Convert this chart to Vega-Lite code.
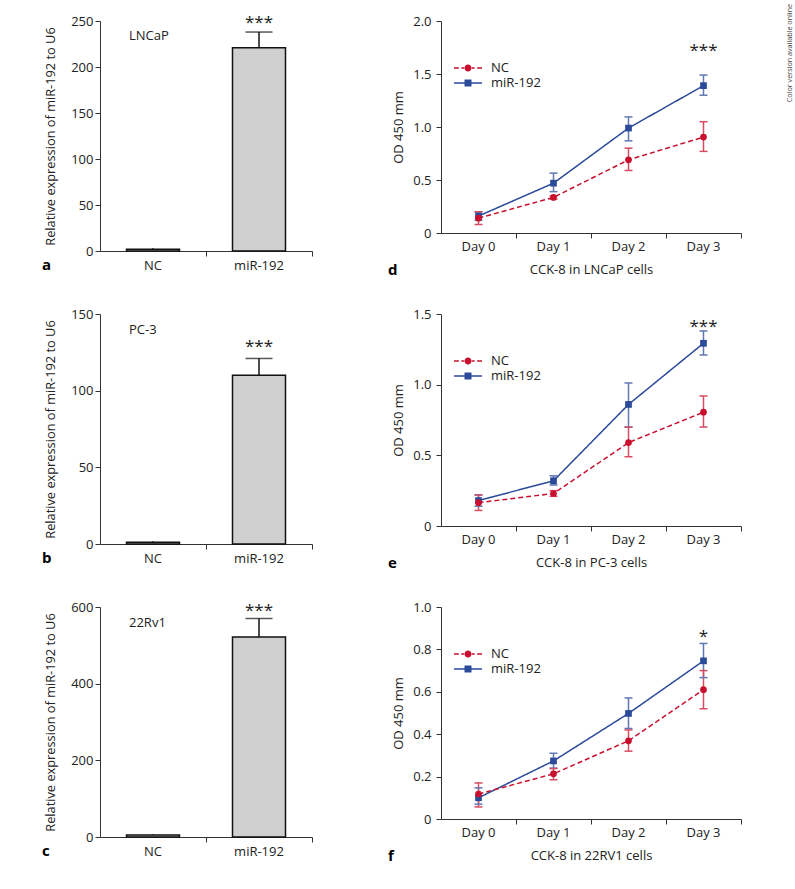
{
  "$schema": "https://vega.github.io/schema/vega-lite/v6.json",
  "padding": {"left": 42, "top": 3, "right": 2, "bottom": 5},
  "background": "white",
  "title": {"text": "Color version available online", "orient": "right", "anchor": "start", "angle": -90, "align": "right", "fontSize": 7.2, "font": "Open Sans", "fontWeight": "normal", "color": "#444", "offset": 37, "dx": 10.5},
  "config": {
    "font": "Open Sans",
    "view": {"stroke": null},
    "axis": {"domainColor": "#333", "tickColor": "#333", "labelColor": "#222", "titleColor": "#222", "labelFontSize": 13, "titleFontSize": 13, "titleFontWeight": "normal", "grid": false, "tickSize": 5, "labelFont": "Open Sans", "titleFont": "Open Sans"},
    "legend": {"labelFont": "Open Sans"}
  },
  "datasets": {
    "bars": [
      {"panel": "a", "group": "NC", "value": 2, "hi": 3},
      {"panel": "a", "group": "miR-192", "value": 221, "hi": 238},
      {"panel": "b", "group": "NC", "value": 1.2, "hi": 1.8},
      {"panel": "b", "group": "miR-192", "value": 110, "hi": 121},
      {"panel": "c", "group": "NC", "value": 5, "hi": 7},
      {"panel": "c", "group": "miR-192", "value": 522, "hi": 570}
    ],
    "barnotes": [
      {"panel": "a", "group": "miR-192", "y": 242, "text": "***", "kind": "star"},
      {"panel": "a", "group": "NC", "y": 229.6, "text": "LNCaP", "kind": "cell"},
      {"panel": "b", "group": "miR-192", "y": 125, "text": "***", "kind": "star"},
      {"panel": "b", "group": "NC", "y": 136.7, "text": "PC-3", "kind": "cell"},
      {"panel": "c", "group": "miR-192", "y": 577, "text": "***", "kind": "star"},
      {"panel": "c", "group": "NC", "y": 549, "text": "22Rv1", "kind": "cell"}
    ],
    "lines": [
      {"panel": "d", "group": "miR-192", "day": "Day 0", "value": 0.16, "lo": 0.12, "hi": 0.2},
      {"panel": "d", "group": "miR-192", "day": "Day 1", "value": 0.47, "lo": 0.39, "hi": 0.565},
      {"panel": "d", "group": "miR-192", "day": "Day 2", "value": 0.99, "lo": 0.87, "hi": 1.095},
      {"panel": "d", "group": "miR-192", "day": "Day 3", "value": 1.39, "lo": 1.3, "hi": 1.49},
      {"panel": "d", "group": "NC", "day": "Day 0", "value": 0.14, "lo": 0.08, "hi": 0.2},
      {"panel": "d", "group": "NC", "day": "Day 1", "value": 0.336, "lo": 0.32, "hi": 0.35},
      {"panel": "d", "group": "NC", "day": "Day 2", "value": 0.69, "lo": 0.59, "hi": 0.8},
      {"panel": "d", "group": "NC", "day": "Day 3", "value": 0.905, "lo": 0.77, "hi": 1.05},
      {"panel": "e", "group": "miR-192", "day": "Day 0", "value": 0.18, "lo": 0.14, "hi": 0.22},
      {"panel": "e", "group": "miR-192", "day": "Day 1", "value": 0.32, "lo": 0.29, "hi": 0.355},
      {"panel": "e", "group": "miR-192", "day": "Day 2", "value": 0.86, "lo": 0.7, "hi": 1.012},
      {"panel": "e", "group": "miR-192", "day": "Day 3", "value": 1.293, "lo": 1.21, "hi": 1.38},
      {"panel": "e", "group": "NC", "day": "Day 0", "value": 0.165, "lo": 0.11, "hi": 0.22},
      {"panel": "e", "group": "NC", "day": "Day 1", "value": 0.23, "lo": 0.21, "hi": 0.25},
      {"panel": "e", "group": "NC", "day": "Day 2", "value": 0.59, "lo": 0.49, "hi": 0.7},
      {"panel": "e", "group": "NC", "day": "Day 3", "value": 0.805, "lo": 0.7, "hi": 0.92},
      {"panel": "f", "group": "miR-192", "day": "Day 0", "value": 0.1, "lo": 0.07, "hi": 0.147},
      {"panel": "f", "group": "miR-192", "day": "Day 1", "value": 0.274, "lo": 0.24, "hi": 0.31},
      {"panel": "f", "group": "miR-192", "day": "Day 2", "value": 0.498, "lo": 0.427, "hi": 0.571},
      {"panel": "f", "group": "miR-192", "day": "Day 3", "value": 0.746, "lo": 0.667, "hi": 0.828},
      {"panel": "f", "group": "NC", "day": "Day 0", "value": 0.118, "lo": 0.057, "hi": 0.17},
      {"panel": "f", "group": "NC", "day": "Day 1", "value": 0.213, "lo": 0.185, "hi": 0.238},
      {"panel": "f", "group": "NC", "day": "Day 2", "value": 0.369, "lo": 0.32, "hi": 0.42},
      {"panel": "f", "group": "NC", "day": "Day 3", "value": 0.61, "lo": 0.52, "hi": 0.7}
    ],
    "linenotes": [
      {"panel": "d", "day": "Day 3", "y": 1.673, "text": "***"},
      {"panel": "e", "day": "Day 3", "y": 1.374, "text": "***"},
      {"panel": "f", "day": "Day 3", "y": 0.835, "text": "*"}
    ]
  },
  "hconcat": [
    {
      "spacing": 35,
      "vconcat": [
        {
          "width": 212, "height": 230,
          "title": {"text": "a", "orient": "bottom", "anchor": "start", "frame": "group", "dx": -58, "dy": -14, "fontSize": 15, "fontWeight": "bold", "color": "#000", "offset": 0},
          "layer": [
            {"data": {"name": "bars"}, "transform": [{"filter": "datum.panel === 'a'"}],
             "mark": {"type": "bar", "width": {"band": 0.5}, "fill": "#cfcfcf", "stroke": "#111", "strokeWidth": 1.5},
             "encoding": {
               "x": {"field": "group", "type": "nominal", "sort": ["NC", "miR-192"], "scale": {"type": "band", "paddingInner": 0, "paddingOuter": 0}, "axis": {"title": null, "labelAngle": 0, "bandPosition": 1, "labelPadding": 3}},
               "y": {"field": "value", "type": "quantitative", "title": "Relative expression of miR-192 to U6", "scale": {"domain": [0, 250], "nice": false}, "axis": {"values": [0, 50, 100, 150, 200, 250], "titleFontSize": 12.8, "labelPadding": 2, "titlePadding": 13}}
             }},
            {"data": {"name": "bars"}, "transform": [{"filter": "datum.panel === 'a'"}],
             "mark": {"type": "rule", "color": "#111", "strokeWidth": 1.5},
             "encoding": {
               "x": {"field": "group", "type": "nominal", "sort": ["NC", "miR-192"]},
               "y": {"field": "value", "type": "quantitative", "title": "Relative expression of miR-192 to U6"},
               "y2": {"field": "hi"}
             }},
            {"data": {"name": "bars"}, "transform": [{"filter": "datum.panel === 'a' && datum.group === 'miR-192'"}],
             "mark": {"type": "tick", "color": "#111", "size": 27, "thickness": 1.5, "orient": "horizontal"},
             "encoding": {
               "x": {"field": "group", "type": "nominal", "sort": ["NC", "miR-192"]},
               "y": {"field": "hi", "type": "quantitative", "title": "Relative expression of miR-192 to U6"}
             }},
            {"data": {"name": "barnotes"}, "transform": [{"filter": "datum.panel === 'a' && datum.kind === 'star'"}],
             "mark": {"type": "text", "fontSize": 17, "baseline": "alphabetic", "align": "center", "color": "#222"},
             "encoding": {
               "x": {"field": "group", "type": "nominal", "sort": ["NC", "miR-192"]},
               "y": {"field": "y", "type": "quantitative", "title": "Relative expression of miR-192 to U6"},
               "text": {"field": "text"}
             }},
            {"data": {"name": "barnotes"}, "transform": [{"filter": "datum.panel === 'a' && datum.kind === 'cell'"}],
             "mark": {"type": "text", "fontSize": 13, "baseline": "alphabetic", "align": "left", "dx": -24, "color": "#222"},
             "encoding": {
               "x": {"field": "group", "type": "nominal", "sort": ["NC", "miR-192"]},
               "y": {"field": "y", "type": "quantitative", "title": "Relative expression of miR-192 to U6"},
               "text": {"field": "text"}
             }}
          ]
        },
        {
          "width": 212, "height": 230,
          "title": {"text": "b", "orient": "bottom", "anchor": "start", "frame": "group", "dx": -58, "dy": -14, "fontSize": 15, "fontWeight": "bold", "color": "#000", "offset": 0},
          "layer": [
            {"data": {"name": "bars"}, "transform": [{"filter": "datum.panel === 'b'"}],
             "mark": {"type": "bar", "width": {"band": 0.5}, "fill": "#cfcfcf", "stroke": "#111", "strokeWidth": 1.5},
             "encoding": {
               "x": {"field": "group", "type": "nominal", "sort": ["NC", "miR-192"], "scale": {"type": "band", "paddingInner": 0, "paddingOuter": 0}, "axis": {"title": null, "labelAngle": 0, "bandPosition": 1, "labelPadding": 3}},
               "y": {"field": "value", "type": "quantitative", "title": "Relative expression of miR-192 to U6", "scale": {"domain": [0, 150], "nice": false}, "axis": {"values": [0, 50, 100, 150], "titleFontSize": 12.8, "labelPadding": 2, "titlePadding": 13}}
             }},
            {"data": {"name": "bars"}, "transform": [{"filter": "datum.panel === 'b'"}],
             "mark": {"type": "rule", "color": "#111", "strokeWidth": 1.5},
             "encoding": {
               "x": {"field": "group", "type": "nominal", "sort": ["NC", "miR-192"]},
               "y": {"field": "value", "type": "quantitative", "title": "Relative expression of miR-192 to U6"},
               "y2": {"field": "hi"}
             }},
            {"data": {"name": "bars"}, "transform": [{"filter": "datum.panel === 'b' && datum.group === 'miR-192'"}],
             "mark": {"type": "tick", "color": "#111", "size": 27, "thickness": 1.5, "orient": "horizontal"},
             "encoding": {
               "x": {"field": "group", "type": "nominal", "sort": ["NC", "miR-192"]},
               "y": {"field": "hi", "type": "quantitative", "title": "Relative expression of miR-192 to U6"}
             }},
            {"data": {"name": "barnotes"}, "transform": [{"filter": "datum.panel === 'b' && datum.kind === 'star'"}],
             "mark": {"type": "text", "fontSize": 17, "baseline": "alphabetic", "align": "center", "color": "#222"},
             "encoding": {
               "x": {"field": "group", "type": "nominal", "sort": ["NC", "miR-192"]},
               "y": {"field": "y", "type": "quantitative", "title": "Relative expression of miR-192 to U6"},
               "text": {"field": "text"}
             }},
            {"data": {"name": "barnotes"}, "transform": [{"filter": "datum.panel === 'b' && datum.kind === 'cell'"}],
             "mark": {"type": "text", "fontSize": 13, "baseline": "alphabetic", "align": "left", "dx": -24, "color": "#222"},
             "encoding": {
               "x": {"field": "group", "type": "nominal", "sort": ["NC", "miR-192"]},
               "y": {"field": "y", "type": "quantitative", "title": "Relative expression of miR-192 to U6"},
               "text": {"field": "text"}
             }}
          ]
        },
        {
          "width": 212, "height": 230,
          "title": {"text": "c", "orient": "bottom", "anchor": "start", "frame": "group", "dx": -58, "dy": -14, "fontSize": 15, "fontWeight": "bold", "color": "#000", "offset": 0},
          "layer": [
            {"data": {"name": "bars"}, "transform": [{"filter": "datum.panel === 'c'"}],
             "mark": {"type": "bar", "width": {"band": 0.5}, "fill": "#cfcfcf", "stroke": "#111", "strokeWidth": 1.5},
             "encoding": {
               "x": {"field": "group", "type": "nominal", "sort": ["NC", "miR-192"], "scale": {"type": "band", "paddingInner": 0, "paddingOuter": 0}, "axis": {"title": null, "labelAngle": 0, "bandPosition": 1, "labelPadding": 3}},
               "y": {"field": "value", "type": "quantitative", "title": "Relative expression of miR-192 to U6", "scale": {"domain": [0, 600], "nice": false}, "axis": {"values": [0, 200, 400, 600], "titleFontSize": 12.8, "labelPadding": 2, "titlePadding": 13}}
             }},
            {"data": {"name": "bars"}, "transform": [{"filter": "datum.panel === 'c'"}],
             "mark": {"type": "rule", "color": "#111", "strokeWidth": 1.5},
             "encoding": {
               "x": {"field": "group", "type": "nominal", "sort": ["NC", "miR-192"]},
               "y": {"field": "value", "type": "quantitative", "title": "Relative expression of miR-192 to U6"},
               "y2": {"field": "hi"}
             }},
            {"data": {"name": "bars"}, "transform": [{"filter": "datum.panel === 'c' && datum.group === 'miR-192'"}],
             "mark": {"type": "tick", "color": "#111", "size": 27, "thickness": 1.5, "orient": "horizontal"},
             "encoding": {
               "x": {"field": "group", "type": "nominal", "sort": ["NC", "miR-192"]},
               "y": {"field": "hi", "type": "quantitative", "title": "Relative expression of miR-192 to U6"}
             }},
            {"data": {"name": "barnotes"}, "transform": [{"filter": "datum.panel === 'c' && datum.kind === 'star'"}],
             "mark": {"type": "text", "fontSize": 17, "baseline": "alphabetic", "align": "center", "color": "#222"},
             "encoding": {
               "x": {"field": "group", "type": "nominal", "sort": ["NC", "miR-192"]},
               "y": {"field": "y", "type": "quantitative", "title": "Relative expression of miR-192 to U6"},
               "text": {"field": "text"}
             }},
            {"data": {"name": "barnotes"}, "transform": [{"filter": "datum.panel === 'c' && datum.kind === 'cell'"}],
             "mark": {"type": "text", "fontSize": 13, "baseline": "alphabetic", "align": "left", "dx": -24, "color": "#222"},
             "encoding": {
               "x": {"field": "group", "type": "nominal", "sort": ["NC", "miR-192"]},
               "y": {"field": "y", "type": "quantitative", "title": "Relative expression of miR-192 to U6"},
               "text": {"field": "text"}
             }}
          ]
        }
      ]
    },
    {
      "spacing": 30,
      "resolve": {"scale": {"color": "independent", "shape": "independent"}, "legend": {"color": "independent", "shape": "independent"}},
      "vconcat": [
        {
          "width": 300, "height": 212,
          "title": {"text": "d", "orient": "bottom", "anchor": "start", "frame": "group", "dx": -53, "dy": -13, "fontSize": 15, "fontWeight": "bold", "color": "#000", "offset": 0},
          "data": {"name": "lines"},
          "transform": [{"filter": "datum.panel === 'd'"}],
          "layer": [
            {"mark": {"type": "rule", "strokeWidth": 1.5},
             "encoding": {
               "x": {"field": "day", "type": "ordinal", "scale": {"type": "band", "paddingInner": 0, "paddingOuter": 0}, "axis": {"title": "CCK-8 in LNCaP cells", "labelAngle": 0, "bandPosition": 1, "labelPadding": 2, "titlePadding": 10}},
               "y": {"field": "lo", "type": "quantitative", "title": "OD 450 mm", "scale": {"domain": [0, 2], "nice": false}, "axis": {"values": [0, 0.5, 1, 1.5, 2], "labelExpr": "datum.value === 0 ? '0' : format(datum.value, '.1f')", "labelPadding": 5, "titlePadding": 7}},
               "y2": {"field": "hi"},
               "color": {"condition": {"test": "datum.group === 'NC'", "value": "#d64c62"}, "value": "#6077b3"}
             }},
            {"mark": {"type": "tick", "size": 8, "thickness": 1.5, "orient": "horizontal", "opacity": 1},
             "encoding": {
               "x": {"field": "day", "type": "ordinal"},
               "y": {"field": "lo", "type": "quantitative", "title": "OD 450 mm"},
               "color": {"condition": {"test": "datum.group === 'NC'", "value": "#d64c62"}, "value": "#6077b3"}
             }},
            {"mark": {"type": "tick", "size": 8, "thickness": 1.5, "orient": "horizontal", "opacity": 1},
             "encoding": {
               "x": {"field": "day", "type": "ordinal"},
               "y": {"field": "hi", "type": "quantitative", "title": "OD 450 mm"},
               "color": {"condition": {"test": "datum.group === 'NC'", "value": "#d64c62"}, "value": "#6077b3"}
             }},
            {"mark": {"type": "line", "strokeWidth": 1.5},
             "encoding": {
               "x": {"field": "day", "type": "ordinal"},
               "y": {"field": "value", "type": "quantitative", "title": "OD 450 mm"},
               "detail": {"field": "group"},
               "color": {"condition": {"test": "datum.group === 'NC'", "value": "#c8102e"}, "value": "#2b4a9a"},
               "strokeDash": {"condition": {"test": "datum.group === 'NC'", "value": [5, 3]}, "value": [1, 0]}
             }},
            {"mark": {"type": "point", "filled": true, "size": 45, "opacity": 1},
             "encoding": {
               "x": {"field": "day", "type": "ordinal"},
               "y": {"field": "value", "type": "quantitative", "title": "OD 450 mm"},
               "color": {"condition": {"test": "datum.group === 'NC'", "value": "#c8102e"}, "value": "#2b4a9a"},
               "shape": {"condition": {"test": "datum.group === 'NC'", "value": "circle"}, "value": "square"}
             }},
            {"transform": [{"filter": "false"}],
             "mark": {"type": "point", "filled": true, "size": 45, "opacity": 1},
             "encoding": {
               "x": {"field": "day", "type": "ordinal"},
               "y": {"field": "value", "type": "quantitative", "title": "OD 450 mm"},
               "color": {"field": "group", "type": "nominal", "scale": {"domain": ["NC", "miR-192"], "range": ["#c8102e", "#2b4a9a"]}, "legend": {"orient": "none", "legendX": 20, "legendY": 40, "title": null, "labelFontSize": 13, "labelColor": "#222", "symbolSize": 196, "symbolOpacity": 1, "symbolStrokeWidth": 0, "labelOffset": 16, "rowPadding": 1}},
               "shape": {"field": "group", "type": "nominal", "scale": {"domain": ["NC", "miR-192"], "range": ["M-2,-0.11H-1.3V0.11H-2Z M-0.95,-0.11H-0.55V0.11H-0.95Z M0.55,-0.11H0.95V0.11H0.55Z M1.3,-0.11H2V0.11H1.3Z M0.5,0A0.5,0.5,0,1,1,-0.5,0A0.5,0.5,0,1,1,0.5,0Z", "M-2,-0.11H2V0.11H-2Z M-0.5,-0.5H0.5V0.5H-0.5Z"]}, "legend": {"orient": "none", "legendX": 20, "legendY": 40, "title": null, "labelFontSize": 13, "labelColor": "#222", "symbolSize": 196, "symbolOpacity": 1, "symbolStrokeWidth": 0, "labelOffset": 16, "rowPadding": 1}}
             }},
            {"data": {"name": "linenotes"}, "transform": [{"filter": "datum.panel === 'd'"}],
             "mark": {"type": "text", "fontSize": 17, "baseline": "alphabetic", "align": "center", "color": "#222"},
             "encoding": {
               "x": {"field": "day", "type": "ordinal"},
               "y": {"field": "y", "type": "quantitative", "title": "OD 450 mm"},
               "text": {"field": "text"}
             }}
          ]
        },
        {
          "width": 300, "height": 212,
          "title": {"text": "e", "orient": "bottom", "anchor": "start", "frame": "group", "dx": -53, "dy": -13, "fontSize": 15, "fontWeight": "bold", "color": "#000", "offset": 0},
          "data": {"name": "lines"},
          "transform": [{"filter": "datum.panel === 'e'"}],
          "layer": [
            {"mark": {"type": "rule", "strokeWidth": 1.5},
             "encoding": {
               "x": {"field": "day", "type": "ordinal", "scale": {"type": "band", "paddingInner": 0, "paddingOuter": 0}, "axis": {"title": "CCK-8 in PC-3 cells", "labelAngle": 0, "bandPosition": 1, "labelPadding": 2, "titlePadding": 10}},
               "y": {"field": "lo", "type": "quantitative", "title": "OD 450 mm", "scale": {"domain": [0, 1.5], "nice": false}, "axis": {"values": [0, 0.5, 1, 1.5], "labelExpr": "datum.value === 0 ? '0' : format(datum.value, '.1f')", "labelPadding": 5, "titlePadding": 7}},
               "y2": {"field": "hi"},
               "color": {"condition": {"test": "datum.group === 'NC'", "value": "#d64c62"}, "value": "#6077b3"}
             }},
            {"mark": {"type": "tick", "size": 8, "thickness": 1.5, "orient": "horizontal", "opacity": 1},
             "encoding": {
               "x": {"field": "day", "type": "ordinal"},
               "y": {"field": "lo", "type": "quantitative", "title": "OD 450 mm"},
               "color": {"condition": {"test": "datum.group === 'NC'", "value": "#d64c62"}, "value": "#6077b3"}
             }},
            {"mark": {"type": "tick", "size": 8, "thickness": 1.5, "orient": "horizontal", "opacity": 1},
             "encoding": {
               "x": {"field": "day", "type": "ordinal"},
               "y": {"field": "hi", "type": "quantitative", "title": "OD 450 mm"},
               "color": {"condition": {"test": "datum.group === 'NC'", "value": "#d64c62"}, "value": "#6077b3"}
             }},
            {"mark": {"type": "line", "strokeWidth": 1.5},
             "encoding": {
               "x": {"field": "day", "type": "ordinal"},
               "y": {"field": "value", "type": "quantitative", "title": "OD 450 mm"},
               "detail": {"field": "group"},
               "color": {"condition": {"test": "datum.group === 'NC'", "value": "#c8102e"}, "value": "#2b4a9a"},
               "strokeDash": {"condition": {"test": "datum.group === 'NC'", "value": [5, 3]}, "value": [1, 0]}
             }},
            {"mark": {"type": "point", "filled": true, "size": 45, "opacity": 1},
             "encoding": {
               "x": {"field": "day", "type": "ordinal"},
               "y": {"field": "value", "type": "quantitative", "title": "OD 450 mm"},
               "color": {"condition": {"test": "datum.group === 'NC'", "value": "#c8102e"}, "value": "#2b4a9a"},
               "shape": {"condition": {"test": "datum.group === 'NC'", "value": "circle"}, "value": "square"}
             }},
            {"transform": [{"filter": "false"}],
             "mark": {"type": "point", "filled": true, "size": 45, "opacity": 1},
             "encoding": {
               "x": {"field": "day", "type": "ordinal"},
               "y": {"field": "value", "type": "quantitative", "title": "OD 450 mm"},
               "color": {"field": "group", "type": "nominal", "scale": {"domain": ["NC", "miR-192"], "range": ["#c8102e", "#2b4a9a"]}, "legend": {"orient": "none", "legendX": 20, "legendY": 40, "title": null, "labelFontSize": 13, "labelColor": "#222", "symbolSize": 196, "symbolOpacity": 1, "symbolStrokeWidth": 0, "labelOffset": 16, "rowPadding": 1}},
               "shape": {"field": "group", "type": "nominal", "scale": {"domain": ["NC", "miR-192"], "range": ["M-2,-0.11H-1.3V0.11H-2Z M-0.95,-0.11H-0.55V0.11H-0.95Z M0.55,-0.11H0.95V0.11H0.55Z M1.3,-0.11H2V0.11H1.3Z M0.5,0A0.5,0.5,0,1,1,-0.5,0A0.5,0.5,0,1,1,0.5,0Z", "M-2,-0.11H2V0.11H-2Z M-0.5,-0.5H0.5V0.5H-0.5Z"]}, "legend": {"orient": "none", "legendX": 20, "legendY": 40, "title": null, "labelFontSize": 13, "labelColor": "#222", "symbolSize": 196, "symbolOpacity": 1, "symbolStrokeWidth": 0, "labelOffset": 16, "rowPadding": 1}}
             }},
            {"data": {"name": "linenotes"}, "transform": [{"filter": "datum.panel === 'e'"}],
             "mark": {"type": "text", "fontSize": 17, "baseline": "alphabetic", "align": "center", "color": "#222"},
             "encoding": {
               "x": {"field": "day", "type": "ordinal"},
               "y": {"field": "y", "type": "quantitative", "title": "OD 450 mm"},
               "text": {"field": "text"}
             }}
          ]
        },
        {
          "width": 300, "height": 212,
          "title": {"text": "f", "orient": "bottom", "anchor": "start", "frame": "group", "dx": -53, "dy": -13, "fontSize": 15, "fontWeight": "bold", "color": "#000", "offset": 0},
          "data": {"name": "lines"},
          "transform": [{"filter": "datum.panel === 'f'"}],
          "layer": [
            {"mark": {"type": "rule", "strokeWidth": 1.5},
             "encoding": {
               "x": {"field": "day", "type": "ordinal", "scale": {"type": "band", "paddingInner": 0, "paddingOuter": 0}, "axis": {"title": "CCK-8 in 22RV1 cells", "labelAngle": 0, "bandPosition": 1, "labelPadding": 2, "titlePadding": 10}},
               "y": {"field": "lo", "type": "quantitative", "title": "OD 450 mm", "scale": {"domain": [0, 1], "nice": false}, "axis": {"values": [0, 0.2, 0.4, 0.6, 0.8, 1], "labelExpr": "datum.value === 0 ? '0' : format(datum.value, '.1f')", "labelPadding": 5, "titlePadding": 7}},
               "y2": {"field": "hi"},
               "color": {"condition": {"test": "datum.group === 'NC'", "value": "#d64c62"}, "value": "#6077b3"}
             }},
            {"mark": {"type": "tick", "size": 8, "thickness": 1.5, "orient": "horizontal", "opacity": 1},
             "encoding": {
               "x": {"field": "day", "type": "ordinal"},
               "y": {"field": "lo", "type": "quantitative", "title": "OD 450 mm"},
               "color": {"condition": {"test": "datum.group === 'NC'", "value": "#d64c62"}, "value": "#6077b3"}
             }},
            {"mark": {"type": "tick", "size": 8, "thickness": 1.5, "orient": "horizontal", "opacity": 1},
             "encoding": {
               "x": {"field": "day", "type": "ordinal"},
               "y": {"field": "hi", "type": "quantitative", "title": "OD 450 mm"},
               "color": {"condition": {"test": "datum.group === 'NC'", "value": "#d64c62"}, "value": "#6077b3"}
             }},
            {"mark": {"type": "line", "strokeWidth": 1.5},
             "encoding": {
               "x": {"field": "day", "type": "ordinal"},
               "y": {"field": "value", "type": "quantitative", "title": "OD 450 mm"},
               "detail": {"field": "group"},
               "color": {"condition": {"test": "datum.group === 'NC'", "value": "#c8102e"}, "value": "#2b4a9a"},
               "strokeDash": {"condition": {"test": "datum.group === 'NC'", "value": [5, 3]}, "value": [1, 0]}
             }},
            {"mark": {"type": "point", "filled": true, "size": 45, "opacity": 1},
             "encoding": {
               "x": {"field": "day", "type": "ordinal"},
               "y": {"field": "value", "type": "quantitative", "title": "OD 450 mm"},
               "color": {"condition": {"test": "datum.group === 'NC'", "value": "#c8102e"}, "value": "#2b4a9a"},
               "shape": {"condition": {"test": "datum.group === 'NC'", "value": "circle"}, "value": "square"}
             }},
            {"transform": [{"filter": "false"}],
             "mark": {"type": "point", "filled": true, "size": 45, "opacity": 1},
             "encoding": {
               "x": {"field": "day", "type": "ordinal"},
               "y": {"field": "value", "type": "quantitative", "title": "OD 450 mm"},
               "color": {"field": "group", "type": "nominal", "scale": {"domain": ["NC", "miR-192"], "range": ["#c8102e", "#2b4a9a"]}, "legend": {"orient": "none", "legendX": 20, "legendY": 40, "title": null, "labelFontSize": 13, "labelColor": "#222", "symbolSize": 196, "symbolOpacity": 1, "symbolStrokeWidth": 0, "labelOffset": 16, "rowPadding": 1}},
               "shape": {"field": "group", "type": "nominal", "scale": {"domain": ["NC", "miR-192"], "range": ["M-2,-0.11H-1.3V0.11H-2Z M-0.95,-0.11H-0.55V0.11H-0.95Z M0.55,-0.11H0.95V0.11H0.55Z M1.3,-0.11H2V0.11H1.3Z M0.5,0A0.5,0.5,0,1,1,-0.5,0A0.5,0.5,0,1,1,0.5,0Z", "M-2,-0.11H2V0.11H-2Z M-0.5,-0.5H0.5V0.5H-0.5Z"]}, "legend": {"orient": "none", "legendX": 20, "legendY": 40, "title": null, "labelFontSize": 13, "labelColor": "#222", "symbolSize": 196, "symbolOpacity": 1, "symbolStrokeWidth": 0, "labelOffset": 16, "rowPadding": 1}}
             }},
            {"data": {"name": "linenotes"}, "transform": [{"filter": "datum.panel === 'f'"}],
             "mark": {"type": "text", "fontSize": 17, "baseline": "alphabetic", "align": "center", "color": "#222"},
             "encoding": {
               "x": {"field": "day", "type": "ordinal"},
               "y": {"field": "y", "type": "quantitative", "title": "OD 450 mm"},
               "text": {"field": "text"}
             }}
          ]
        }
      ]
    }
  ],
  "spacing": 75,
  "resolve": {"scale": {"color": "independent", "shape": "independent"}, "legend": {"color": "independent", "shape": "independent"}}
}
